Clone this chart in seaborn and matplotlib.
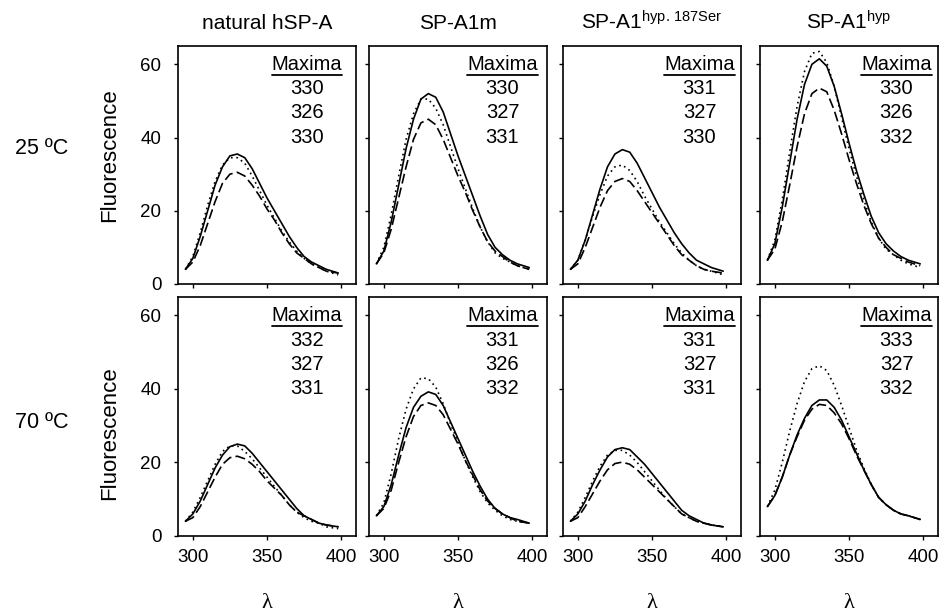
import matplotlib
matplotlib.use("Agg")
import matplotlib.pyplot as plt
import seaborn as sns
import pandas as pd

# wavelength grid (nm)
lam = [295, 300, 305, 310, 315, 320, 325, 330, 335, 340, 345, 350,
       355, 360, 365, 370, 375, 380, 385, 390, 398]

# 25 ºC
nat25_solid = [4, 7, 13, 20, 27, 32, 35, 35.5, 34.5, 31.5, 27.5, 23.5, 20, 16.5, 13, 10, 7.5, 6, 5, 4, 3]
nat25_dot = [4, 7.5, 14, 21.5, 28, 32.5, 34.5, 34.5, 33, 29.5, 25.5, 21.5, 18, 14.5, 11.5, 9, 7, 5.5, 4.5, 3.5, 2.5]
nat25_dash = [4, 6, 10.5, 16.5, 22.5, 27.5, 30, 30.5, 29.5, 27, 24, 20.5, 17.5, 14, 11, 8.5, 7, 5.5, 4.5, 3.5, 3]

a1m25_solid = [5.5, 9, 17, 27, 37, 45, 50.5, 52, 51, 47, 41, 35, 29.5, 24, 18.5, 13.5, 10, 8, 6.5, 5.5, 4.5]
a1m25_dot = [5.5, 10, 19, 29.5, 39.5, 46.5, 50.5, 50.5, 48, 43.5, 37.5, 31.5, 26, 20.5, 15.5, 11.5, 8.5, 7, 6, 5, 4]
a1m25_dash = [5.5, 8.5, 15, 23.5, 32, 39.5, 44, 45, 43.5, 39.5, 34.5, 29.5, 25, 20, 15.5, 11.5, 9, 7.5, 6, 5, 4]

ser25_solid = [4, 6.5, 12, 19, 26, 32, 35.5, 36.7, 36, 33, 29, 25, 21, 17.5, 14, 11, 8.5, 6.5, 5.5, 4.5, 3.5]
ser25_dot = [4, 6.5, 12, 18.5, 24.5, 29.5, 32, 32.5, 31, 28, 24, 20.5, 17, 14, 11, 8.5, 6.5, 5, 4, 3.5, 2.5]
ser25_dash = [4, 5.5, 10, 15.5, 21, 25.5, 28, 28.8, 28, 25.5, 22.5, 19.5, 16.5, 13.5, 10.5, 8, 6.5, 5, 4, 3.5, 3]

hyp25_solid = [6.5, 11, 21, 33, 45, 54.5, 60, 61.5, 59.5, 54, 46.5, 38.5, 31, 24.5, 18.5, 14, 11, 9, 7.5, 6.5, 5.5]
hyp25_dot = [6.5, 12, 23, 36, 48.5, 58, 63, 63.5, 60.5, 54, 45.5, 37, 29.5, 23, 17, 12.5, 9.5, 8, 6.5, 5.5, 4.5]
hyp25_dash = [6.5, 9.5, 17, 27, 37.5, 46.5, 52, 53.5, 52.5, 47.5, 41, 34, 27.5, 21.5, 16.5, 12.5, 10, 8, 7, 6, 5]

# 70 ºC
nat70_solid = [4, 6, 9.5, 14, 18.5, 22, 24.3, 25, 24.5, 22.5, 20, 17.5, 15, 12.5, 10, 7.5, 5.5, 4.5, 3.5, 3, 2.5]
nat70_dot = [4, 6.5, 10.5, 15, 19.5, 23, 24.5, 24.5, 23, 21, 18.5, 16, 13.5, 11, 8.5, 6.5, 5, 4, 3.5, 2.5, 2]
nat70_dash = [4, 5, 8, 12, 16, 19.5, 21.3, 21.7, 21, 19.5, 17.5, 15, 13, 11, 8.5, 6.5, 5.5, 4.5, 3.5, 3, 2.5]

a1m70_solid = [5.5, 8, 14, 22, 29.5, 35, 38, 39.2, 38.5, 35.5, 31, 26.5, 22, 17.5, 13.5, 10, 7.5, 6, 5, 4.5, 3.5]
a1m70_dot = [5.5, 9, 17, 26.5, 34.5, 40, 43, 42.8, 40.5, 36, 30.5, 25.5, 20.5, 16, 12, 9, 7, 5.5, 4.5, 4, 3.5]
a1m70_dash = [5.5, 7.5, 12.5, 20, 27, 32.5, 35.5, 36.2, 35.5, 33, 29, 25, 20.5, 16.5, 12.5, 9.5, 7.5, 6, 5, 4, 3.5]

ser70_solid = [4, 6, 9.5, 14, 18, 21.5, 23.5, 24, 23.5, 21.5, 19.5, 17, 14.5, 12, 9.5, 7, 5.5, 4.5, 3.5, 3, 2.5]
ser70_dot = [4, 6.5, 10.5, 15, 19, 22, 23.3, 23.3, 22, 20, 17.5, 15, 12.5, 10, 8, 6, 5, 4, 3.5, 3, 2.5]
ser70_dash = [4, 5, 8, 11.5, 15, 18, 19.7, 20.1, 19.5, 18, 16, 14, 12, 10, 8, 6, 5, 4, 3.5, 3, 2.5]

hyp70_solid = [8, 11, 16, 22, 27.5, 32, 35.5, 37, 37, 35, 31.5, 27, 22.5, 18, 14, 10.5, 8.5, 7, 6, 5.5, 4.5]
hyp70_dot = [8, 12.5, 20, 28.5, 36, 42, 45.5, 46.3, 45, 41, 35.5, 29.5, 23.5, 18.5, 14, 10.5, 8.5, 7, 6, 5.5, 4.5]
hyp70_dash = [8, 11, 16, 22, 27, 31.5, 34.5, 35.8, 35.5, 33.5, 30.5, 26.5, 22, 18, 14, 10.5, 8.5, 7, 6, 5.5, 4.5]

# emission maxima (solid, dotted, dashed)
max_nat25 = [330, 326, 330]
max_a1m25 = [330, 327, 331]
max_ser25 = [331, 327, 330]
max_hyp25 = [330, 326, 332]
max_nat70 = [332, 327, 331]
max_a1m70 = [331, 326, 332]
max_ser70 = [331, 327, 331]
max_hyp70 = [333, 327, 332]

titles = ["natural hSP-A", "SP-A1m", r"SP-A1$^{\mathrm{hyp.\,187Ser}}$", r"SP-A1$^{\mathrm{hyp}}$"]
temps = ["25 ºC", "70 ºC"]

panels = [
    [(nat25_solid, nat25_dot, nat25_dash, max_nat25),
     (a1m25_solid, a1m25_dot, a1m25_dash, max_a1m25),
     (ser25_solid, ser25_dot, ser25_dash, max_ser25),
     (hyp25_solid, hyp25_dot, hyp25_dash, max_hyp25)],
    [(nat70_solid, nat70_dot, nat70_dash, max_nat70),
     (a1m70_solid, a1m70_dot, a1m70_dash, max_a1m70),
     (ser70_solid, ser70_dot, ser70_dash, max_ser70),
     (hyp70_solid, hyp70_dot, hyp70_dash, max_hyp70)],
]

sns.set_style("ticks")
plt.rcParams['font.family'] = ['Liberation Sans', 'DejaVu Sans']
plt.rcParams['mathtext.fontset'] = 'custom'
plt.rcParams['mathtext.rm'] = 'Liberation Sans'
plt.rcParams['mathtext.it'] = 'Liberation Sans:italic'
plt.rcParams['text.color'] = 'black'
plt.rcParams['axes.labelcolor'] = 'black'

W, H = 940, 614
fig = plt.figure(figsize=(W / 100, H / 100), dpi=100)

lefts = [178, 369, 563, 760]
tops = [46, 297]
heights = [238, 239]
pw = 178
text_x = [377, 380, 382, 382]
styles = [("-", None), (":", (1, 2.2)), ("--", (6, 2.5))]

axes = []
for r in range(2):
    for c in range(4):
        ax = fig.add_axes([lefts[c] / W, 1 - (tops[r] + heights[r]) / H, pw / W, heights[r] / H])
        solid, dot, dash, mx = panels[r][c]
        for vals, (ls, dsh) in zip([solid, dot, dash], styles):
            df = pd.DataFrame({"lam": lam, "F": vals})
            sns.lineplot(data=df, x="lam", y="F", ax=ax, color="black",
                         linewidth=1.2, linestyle=ls, solid_joinstyle="round")
            if dsh is not None:
                ax.lines[-1].set_dashes(dsh)
        ax.set_xlim(290, 410)
        ax.set_ylim(0, 65)
        ax.set_xticks([300, 350, 400])
        ax.set_yticks([0, 20, 40, 60])
        ax.tick_params(direction="out", length=3, width=1, labelsize=13.5,
                       colors="black", pad=6)
        ax.tick_params(axis="y", pad=9)
        for s in ax.spines.values():
            s.set_linewidth(1.2)
            s.set_color("black")
        ax.set_xlabel("")
        ax.set_ylabel("")
        if r == 0:
            ax.tick_params(labelbottom=False)
        if c > 0:
            ax.tick_params(labelleft=False)
        t = ax.text(text_x[c], 58.4, "Maxima", ha="center", va="baseline", fontsize=14.5)
        for k, v in enumerate(mx):
            ax.text(text_x[c], 51.8 - 6.6 * k, str(v), ha="center", va="baseline", fontsize=14.5)
        axes.append((ax, t))

# underline "Maxima" using the rendered text extent
fig.canvas.draw()
renderer = fig.canvas.get_renderer()
for ax, t in axes:
    bb = t.get_window_extent(renderer).transformed(ax.transData.inverted())
    ax.plot([bb.x0, bb.x1], [57.0, 57.0], color="black", linewidth=1.3)

for c in range(4):
    cx = (lefts[c] + pw / 2) / W
    fig.text(cx, 1 - 29 / H, titles[c], ha="center", va="baseline", fontsize=15)
    fig.text(cx, 1 - 604 / H, "λ", ha="center", va="center", fontsize=16,
             family=["Liberation Serif", "DejaVu Serif"])

fig.text(110 / W, 1 - 155 / H, "Fluorescence", rotation=90, ha="center", va="center", fontsize=16)
fig.text(110 / W, 1 - 433 / H, "Fluorescence", rotation=90, ha="center", va="center", fontsize=16)
fig.text(42 / W, 1 - 148 / H, temps[0], ha="center", va="center", fontsize=15.5)
fig.text(42 / W, 1 - 423 / H, temps[1], ha="center", va="center", fontsize=15.5)

fig.savefig("out.png", dpi=100)
